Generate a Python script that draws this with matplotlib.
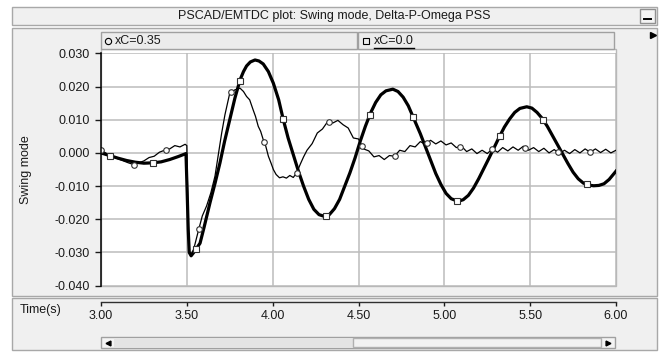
import numpy as np
import matplotlib
matplotlib.use('Agg')
import matplotlib.pyplot as plt
from matplotlib.patches import Rectangle
from matplotlib.lines import Line2D

# series (time in s, swing mode value)
t_xc0 = [3.00, 3.05, 3.10, 3.15, 3.20, 3.25, 3.30, 3.35, 3.40, 3.45, 3.495,
         3.502, 3.508, 3.514, 3.525, 3.54, 3.56, 3.577, 3.60, 3.635, 3.665,
         3.693, 3.72, 3.75, 3.78, 3.81, 3.83, 3.848, 3.87, 3.897, 3.92, 3.945,
         3.975, 4.004, 4.035, 4.062, 4.09, 4.12, 4.15, 4.18, 4.21, 4.24, 4.27,
         4.30, 4.33, 4.36, 4.39, 4.42, 4.45, 4.48, 4.51, 4.54, 4.57, 4.60,
         4.63, 4.66, 4.70, 4.73, 4.76, 4.79, 4.83, 4.86, 4.89, 4.92, 4.95,
         4.98, 5.01, 5.04, 5.08, 5.11, 5.14, 5.17, 5.20, 5.23, 5.26, 5.29,
         5.32, 5.35, 5.38, 5.41, 5.44, 5.48, 5.51, 5.54, 5.57, 5.60, 5.63,
         5.66, 5.69, 5.72, 5.75, 5.78, 5.81, 5.84, 5.87, 5.90, 5.93, 5.96, 6.00]
v_xc0 = [0.0000, -0.0008, -0.0016, -0.0023, -0.0028, -0.0031, -0.0030, -0.0027,
         -0.0020, -0.0011, -0.0002,
         -0.0120, -0.0230, -0.0300, -0.0310, -0.0300, -0.0285, -0.0272, -0.0225,
         -0.0150, -0.0090, -0.0030, 0.0035, 0.0100, 0.0165, 0.0220, 0.0245,
         0.0262, 0.0274, 0.0280, 0.0277, 0.0268, 0.0245, 0.0210, 0.0160, 0.0100,
         0.0045, -0.0005, -0.0055, -0.0100, -0.0140, -0.0170, -0.0186, -0.0191,
         -0.0186, -0.0168, -0.0140, -0.0100, -0.0060, -0.0015, 0.0035, 0.0080,
         0.0120, 0.0152, 0.0175, 0.0187, 0.0192, 0.0185, 0.0168, 0.0142, 0.0094,
         0.0058, 0.0018, -0.0022, -0.0062, -0.0095, -0.0122, -0.0138, -0.0146,
         -0.0141, -0.0128, -0.0106, -0.0078, -0.0047, -0.0016, 0.0016, 0.0048,
         0.0078, 0.0102, 0.0122, 0.0134, 0.0139, 0.0135, 0.0122, 0.0104, 0.0080,
         0.0052, 0.0024, -0.0004, -0.0032, -0.0058, -0.0078, -0.0091, -0.0097,
         -0.0099, -0.0098, -0.0093, -0.0080, -0.0055]

t_xc035 = [3.00, 3.04, 3.08, 3.12, 3.16, 3.19, 3.22, 3.25, 3.28, 3.31, 3.34,
           3.37, 3.40, 3.43, 3.46, 3.49, 3.50, 3.505, 3.51, 3.515, 3.525, 3.54,
           3.567, 3.59, 3.615, 3.64, 3.664, 3.685, 3.703, 3.722, 3.75, 3.78,
           3.81, 3.83, 3.848, 3.866, 3.886, 3.90, 3.916, 3.93, 3.945, 3.96,
           3.975, 3.99, 4.004, 4.02, 4.04, 4.06, 4.08, 4.10, 4.12, 4.14, 4.16,
           4.18, 4.20, 4.23, 4.26, 4.29, 4.32, 4.35, 4.38, 4.41, 4.44, 4.47,
           4.50, 4.53, 4.56, 4.59, 4.62, 4.65, 4.68, 4.71, 4.74, 4.77, 4.80,
           4.83, 4.86, 4.89, 4.92, 4.95, 4.98, 5.01, 5.04, 5.07, 5.10, 5.13,
           5.16, 5.19, 5.22, 5.25, 5.28, 5.31, 5.34, 5.37, 5.40, 5.43, 5.46,
           5.49, 5.52, 5.55, 5.58, 5.61, 5.64, 5.67, 5.70, 5.73, 5.76, 5.79,
           5.82, 5.85, 5.88, 5.91, 5.94, 5.97, 6.00]
v_xc035 = [0.0008, -0.0004, -0.0014, -0.0022, -0.0030, -0.0035, -0.0030,
           -0.0024, -0.0014, -0.0010, 0.0002, 0.0008, 0.0012, 0.0022, 0.0018,
           0.0026, 0.0022, -0.0140, -0.0240, -0.0300, -0.0305, -0.0290,
           -0.0235, -0.0190, -0.0160, -0.0120, -0.0070, 0.0000, 0.0060, 0.0115,
           0.0180, 0.0190, 0.0195, 0.0185, 0.0170, 0.0160, 0.0130, 0.0110,
           0.0080, 0.0065, 0.0040, 0.0020, -0.0010, -0.0030, -0.0050, -0.0065,
           -0.0075, -0.0072, -0.0076, -0.0068, -0.0074, -0.0060, -0.0035,
           -0.0012, 0.0008, 0.0028, 0.0060, 0.0072, 0.0094, 0.0090, 0.0098,
           0.0085, 0.0075, 0.0045, 0.0042, 0.0012, 0.0006, -0.0012, -0.0008,
           -0.0020, -0.0008, -0.0010, 0.0008, 0.0004, 0.0022, 0.0018, 0.0034,
           0.0026, 0.0038, 0.0027, 0.0036, 0.0024, 0.0030, 0.0016, 0.0020,
           0.0004, 0.0012, -0.0002, 0.0008, -0.0002, 0.0012, 0.0002, 0.0016,
           0.0006, 0.0018, 0.0008, 0.0020, 0.0008, 0.0016, 0.0004, 0.0014,
           0.0000, 0.0010, -0.0002, 0.0008, -0.0002, 0.0010, 0.0000, 0.0012,
           0.0002, 0.0012, 0.0001, 0.0011, 0.0000, 0.0008]

x_ticks = [3.0, 3.5, 4.0, 4.5, 5.0, 5.5, 6.0]
y_ticks = [0.03, 0.02, 0.01, 0.0, -0.01, -0.02, -0.03, -0.04]

plt.rcParams['font.family'] = ['Liberation Sans', 'DejaVu Sans']
plt.rcParams['font.size'] = 9

W, H = 659, 352
PANEL = '#f0f0f0'
EDGE = '#a8a8a8'
GRID = '#bcbcbc'
TXT = '#1a1a1a'

fig = plt.figure(figsize=(W / 100, H / 100), dpi=100, facecolor='white')


def box(x0, y0, x1, y1, fc=PANEL, ec=EDGE, lw=1.0):
    # rectangle given in pixel coords (y from the top), kept under the axes
    r = Rectangle((x0 / W, 1 - y1 / H), (x1 - x0) / W, (y1 - y0) / H,
                  transform=fig.transFigure, facecolor=fc, edgecolor=ec,
                  linewidth=lw, zorder=-10)
    fig.add_artist(r)


def ftext(x, y, s, **kw):
    fig.text(x / W, 1 - y / H, s, color=TXT, **kw)


def fmark(x, y, **kw):
    fig.add_artist(Line2D([x / W], [1 - y / H], transform=fig.transFigure,
                          zorder=-5, **kw))


# window frame
box(12, 7, 657, 25)
ftext(334, 16, 'PSCAD/EMTDC plot: Swing mode, Delta-P-Omega PSS',
      ha='center', va='center')
box(640, 9, 655, 23, fc='#f4f4f4', ec='#909090')
fig.add_artist(Line2D([644 / W, 651 / W], [1 - 19 / H, 1 - 19 / H],
                      transform=fig.transFigure, color='black', lw=1.4))
box(12, 28, 657, 296)
box(12, 298, 657, 350)
box(101, 49, 616, 286, fc='white', ec='#b8b8b8')

# legend boxes
box(101, 32, 357, 49, fc='#ececec', ec='#a0a0a0')
box(358, 32, 614, 49, fc='#ececec', ec='#a0a0a0')
fmark(108, 41, marker='o', ms=4.5, mfc='none', mec='black', mew=0.8)
ftext(115, 41, 'xC=0.35', ha='left', va='center')
fmark(366, 41, marker='s', ms=4.5, mfc='none', mec='black', mew=0.8)
ftext(374, 41, 'xC=0.0', ha='left', va='center')
fig.add_artist(Line2D([374 / W, 414 / W], [1 - 47.5 / H, 1 - 47.5 / H],
                      transform=fig.transFigure, color='black', lw=1.0))
fmark(653, 35, marker='>', ms=4, color='black')

# main plot
ax = fig.add_axes([101 / W, 1 - 286 / H, 515 / W, 233 / H])
ax.set_facecolor('none')
ax.set_xlim(3.0, 6.0)
ax.set_ylim(-0.0401, 0.0301)
ax.set_xticks(x_ticks)
ax.set_yticks(y_ticks)
ax.grid(True, color=GRID, lw=1.1)
ax.set_axisbelow(True)
for s in ['top', 'right', 'bottom']:
    ax.spines[s].set_visible(False)
ax.spines['left'].set_color('black')
ax.spines['left'].set_linewidth(1.1)
ax.tick_params(axis='x', length=0, labelbottom=False)
ax.tick_params(axis='y', length=4, width=1, direction='out', pad=4,
               colors=TXT, labelsize=9)
ax.set_yticklabels(['%.3f' % v for v in y_ticks])

ax.plot(t_xc035, v_xc035, color='black', lw=0.9)
ax.plot(t_xc0, v_xc0, color='black', lw=2.3)

# markers spaced in time along each trace
mt_c = np.arange(3.0, 5.9, 0.19)
ax.plot(mt_c, np.interp(mt_c, t_xc035, v_xc035), ls='none', marker='o',
        ms=4, mfc='white', mec='#303030', mew=0.8)
mt_s = np.arange(3.05, 5.9, 0.2527)
ax.plot(mt_s, np.interp(mt_s, t_xc0, v_xc0), ls='none', marker='s',
        ms=4, mfc='white', mec='#303030', mew=0.8)

fig.text(26 / W, 1 - 170 / H, 'Swing mode', rotation=90, ha='center',
         va='center', color=TXT)

# time axis in the lower panel
axt = fig.add_axes([101 / W, 1 - 302 / H, 515 / W, 0.0001])
axt.set_xlim(3.0, 6.0)
axt.set_xticks(x_ticks)
axt.set_xticklabels(['%.2f' % v for v in x_ticks])
axt.set_yticks([])
for s in ['top', 'right', 'left']:
    axt.spines[s].set_visible(False)
axt.spines['bottom'].set_color('#303030')
axt.spines['bottom'].set_linewidth(1.0)
axt.tick_params(axis='x', length=3, width=1, direction='out', pad=3,
                colors=TXT, labelsize=9)
axt.patch.set_visible(False)
ftext(20, 310, 'Time(s)', ha='left', va='center')

# scroll bar
box(101, 337, 615, 348, fc='#f4f4f4', ec='#a0a0a0')
box(114, 338, 353, 347, fc='#e4e4e4', ec='none')
box(353, 338, 601, 347, fc='#f2f2f2', ec='#b0b0b0')
fmark(108, 342.5, marker='<', ms=3.5, color='black')
fmark(608, 342.5, marker='>', ms=3.5, color='black')

fig.savefig('out.png', dpi=100, facecolor='white')
